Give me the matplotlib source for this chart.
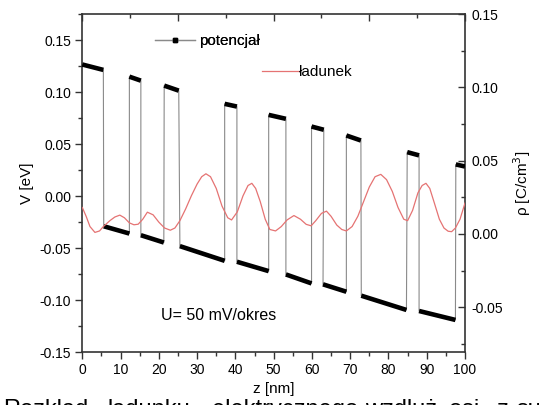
import matplotlib
matplotlib.use("Agg")
import matplotlib.pyplot as plt
from matplotlib.lines import Line2D
from matplotlib.ticker import MultipleLocator

plt.rcParams['font.family'] = ['Liberation Sans', 'DejaVu Sans']

# potential breakpoints (z [nm], V [eV]): pairs form the flat (sloped) levels
z_pot = [0, 5.5, 5.6, 12.3, 12.3, 15.3, 15.3, 21.3, 21.4, 25.2, 25.5, 37.2,
         37.2, 40.4, 40.4, 48.7, 48.7, 53.2, 53.2, 59.9, 59.9, 63.1, 62.9, 69.0,
         69.0, 72.8, 72.9, 84.7, 84.9, 88.0, 88.0, 97.5, 97.6, 100]
v_pot = [0.1265, 0.1213, -0.0289, -0.0359, 0.1148, 0.1110, -0.0375, -0.0445,
         0.1062, 0.1014, -0.0480, -0.0621, 0.0887, 0.0861, -0.0630, -0.0720,
         0.0781, 0.0743, -0.0752, -0.0838, 0.0669, 0.0638, -0.0847, -0.0918,
         0.0583, 0.0535, -0.0956, -0.1093, 0.0423, 0.0392, -0.1103, -0.1189,
         0.0305, 0.0285]

# charge density (z [nm], rho [C/cm^3])
z_rho = [0, 1, 2, 3.3, 4.5, 5.5, 7.2, 8.5, 9.8, 11.0, 12.3, 13.5, 14.6, 15.8, 17.0,
         18.5, 20.0, 21.5, 23.0, 24.2, 25.5, 27.0, 28.5, 30.0, 31.2, 32.3, 33.5,
         35.0, 36.5, 38.0, 39.0, 40.5, 42.0, 43.3, 44.3, 45.3, 46.5, 47.8, 49.0,
         50.5, 52.0, 53.5, 55.3, 57.0, 58.5, 59.8, 61.0, 62.5, 63.8, 65.0, 66.5,
         67.8, 69.0, 70.5, 72.0, 73.5, 75.0, 76.5, 78.0, 79.5, 81.0, 82.5, 84.0,
         85.0, 86.3, 87.7, 88.8, 89.8, 90.8, 92.0, 93.3, 94.5, 95.6, 96.5, 97.5,
         98.7, 100]
rho = [0.018, 0.012, 0.005, 0.001, 0.002, 0.005, 0.009, 0.0115, 0.0128, 0.011,
       0.0075, 0.0062, 0.0066, 0.010, 0.0148, 0.013, 0.008, 0.004, 0.0025, 0.004,
       0.009, 0.017, 0.026, 0.034, 0.039, 0.041, 0.039, 0.031, 0.019, 0.011,
       0.0095, 0.015, 0.026, 0.033, 0.0345, 0.031, 0.022, 0.010, 0.003, 0.002,
       0.005, 0.0095, 0.0125, 0.010, 0.0065, 0.0055, 0.009, 0.014, 0.0155, 0.012,
       0.006, 0.003, 0.002, 0.005, 0.012, 0.022, 0.032, 0.039, 0.0406, 0.037,
       0.029, 0.018, 0.010, 0.009, 0.016, 0.028, 0.033, 0.0345, 0.031, 0.021,
       0.010, 0.004, 0.0018, 0.0015, 0.004, 0.010, 0.021]

x_ticks = [0, 10, 20, 30, 40, 50, 60, 70, 80, 90, 100]
v_ticks = [-0.15, -0.10, -0.05, 0.00, 0.05, 0.10, 0.15]
r_ticks = [-0.05, 0.00, 0.05, 0.10, 0.15]

fig = plt.figure(figsize=(5.39, 4.05), dpi=100)
ax = fig.add_axes([0.1527, 0.1301, 0.71, 0.8353])

spine_col = '#333333'
# thin gray connecting line
ax.plot(z_pot, v_pot, color='#8a8a8a', lw=0.8, zorder=2)
# thick black level segments
for k in range(0, len(z_pot), 2):
    ax.plot(z_pot[k:k + 2], v_pot[k:k + 2], color='black', lw=3.3,
            solid_capstyle='butt', zorder=3)

ax.set_xlim(0, 100)
ax.set_ylim(-0.15, 0.175)
ax.set_xticks(x_ticks)
ax.set_xticklabels([str(t) for t in x_ticks])
ax.xaxis.set_minor_locator(MultipleLocator(5))
ax.set_yticks(v_ticks)
ax.set_yticklabels(['%.2f' % t for t in v_ticks])
ax.yaxis.set_minor_locator(MultipleLocator(0.025))
ax.tick_params(axis='both', which='major', direction='out', length=5, width=1,
               labelsize=10, color=spine_col, pad=3)
ax.tick_params(axis='both', which='minor', direction='out', length=3, width=1,
               color=spine_col)
ax.tick_params(top=False, right=False, which='both')
for s in ax.spines.values():
    s.set_color(spine_col)
    s.set_linewidth(1.2)

sec = ax.secondary_xaxis('top')
sec.set_xticks([0, 25, 50, 75, 100])
sec.xaxis.set_minor_locator(MultipleLocator(12.5))
sec.tick_params(which='major', direction='in', length=5, width=1, labeltop=False,
                color=spine_col)
sec.tick_params(which='minor', direction='in', length=3, width=1, color=spine_col)
sec.spines['top'].set_visible(False)

ax2 = ax.twinx()
ax2.plot(z_rho, rho, color='#e57373', lw=0.9, zorder=2)
ax2.set_ylim(-0.0808, 0.15)
ax2.set_yticks(r_ticks)
ax2.set_yticklabels(['%.2f' % t for t in r_ticks])
ax2.yaxis.set_minor_locator(MultipleLocator(0.025))
ax2.tick_params(axis='y', which='major', direction='in', length=5, width=1,
                labelsize=10, color=spine_col, pad=4.5)
ax2.tick_params(axis='y', which='minor', direction='in', length=3, width=1,
                color=spine_col)
for s in ax2.spines.values():
    s.set_visible(False)

ax.set_ylabel('V [eV]', fontsize=11, labelpad=4)
ax2.set_ylabel('ρ [C/cm$^3$]', fontsize=11, labelpad=6)
ax.set_xlabel('z [nm]', fontsize=11, labelpad=3)

h1 = Line2D([], [], color='#8a8a8a', lw=0.9, marker='s', ms=3.5,
            mfc='black', mec='black')
leg1 = ax.legend([h1], ['potencjał'], loc='center left',
                 bbox_to_anchor=(0.19, 0.92), frameon=False, fontsize=11,
                 handlelength=2.6, handletextpad=0.3, borderpad=0,
                 borderaxespad=0)
ax.add_artist(leg1)
h2 = Line2D([], [], color='#e57373', lw=0.9)
ax2.legend([h2], ['ładunek'], loc='center left',
           bbox_to_anchor=(0.47, 0.829), frameon=False, fontsize=11,
           handlelength=2.4, handletextpad=0.0, borderpad=0, borderaxespad=0)

ax.text(0.205, 0.11, 'U= 50 mV/okres', transform=ax.transAxes, fontsize=11.5,
        va='center', ha='left')

caption = ['Rozkład', 'ładunku', 'elektrycznego', 'wzdłuż', 'osi', 'z', 'super']
cap_x = [3, 108, 212, 365, 449, 497, 516]
for w, xp in zip(caption, cap_x):
    fig.text(xp / 539, 1 - 410 / 405, w, fontsize=17, ha='left', va='center')

fig.savefig('out.png', dpi=100)
